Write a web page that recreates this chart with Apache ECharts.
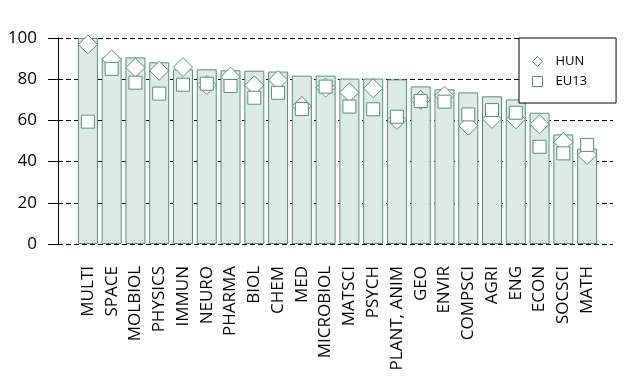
<!DOCTYPE html>
<html>
<head>
<meta charset="utf-8">
<script src="https://cdn.jsdelivr.net/npm/echarts@6/dist/echarts.min.js"></script>
<style>
html,body{margin:0;padding:0;background:#fff;}
#c{width:637px;height:381px;}
</style>
</head>
<body>
<div id="c"></div>
<script>
var categories = ["MULTI","SPACE","MOLBIOL","PHYSICS","IMMUN","NEURO","PHARMA","BIOL","CHEM","MED","MICROBIOL","MATSCI","PSYCH","PLANT, ANIM","GEO","ENVIR","COMPSCI","AGRI","ENG","ECON","SOCSCI","MATH"];
var barValues = [100, 90.4, 90.6, 88.2, 84.8, 84.8, 84.3, 84.1, 83.7, 81.7, 81.7, 80.3, 80.3, 79.9, 76.5, 75.1, 73.6, 71.7, 70.2, 63.7, 53.2, 46.3];
var hunValues = [96.9, 89.6, 85.6, 84.1, 85.9, 77.2, 81.2, 77.0, 79.6, 67.0, 75.9, 73.6, 75.6, 60.2, 70.0, 72.0, 57.4, 60.7, 60.5, 58.1, 49.4, 43.2];
var eu13Values = [59.4, 85.0, 78.3, 73.0, 77.3, 77.8, 76.7, 71.0, 73.4, 65.5, 76.4, 66.7, 65.4, 61.8, 69.4, 69.1, 62.9, 65.0, 63.7, 47.2, 44.0, 48.1];
var yTicks = [0, 20, 40, 60, 80, 100];

var stroke = '#5b8c7b';
var fill = '#dcebe6';
var font = 'Open Sans';

var chart = echarts.init(document.getElementById('c'), null, {renderer: 'canvas'});
chart.setOption({
  animation: false,
  backgroundColor: '#fff',
  grid: [
    {left: 58, right: 24, top: 38, bottom: 137},
    {left: 76, right: 38, top: 38, bottom: 137}
  ],
  legend: {
    data: ['HUN', 'EU13'],
    orient: 'vertical',
    left: 519, top: 38,
    backgroundColor: '#fff',
    borderColor: '#000', borderWidth: 1,
    padding: [17, 29, 15, 13],
    itemWidth: 10, itemHeight: 10, itemGap: 7,
    itemStyle: {color: '#fff', borderColor: stroke, borderWidth: 1},
    textStyle: {fontFamily: font, fontSize: 13, color: '#000', padding: [0, 0, 0, 8]}
  },
  xAxis: [
    {gridIndex: 0, type: 'category', data: categories, show: false},
    {gridIndex: 1, type: 'category', data: categories,
     axisLine: {show: false}, axisTick: {show: false},
     axisLabel: {rotate: 90, interval: 0, margin: 22, color: '#000', fontFamily: font, fontSize: 17}}
  ],
  yAxis: [
    {gridIndex: 0, type: 'value', min: yTicks[0], max: yTicks[yTicks.length-1], interval: 20,
     axisLine: {show: true, lineStyle: {color: '#000', width: 1}},
     axisTick: {show: true, length: 10, lineStyle: {color: '#000'}},
     axisLabel: {margin: 21, color: '#000', fontFamily: font, fontSize: 17},
     splitLine: {show: true, lineStyle: {color: '#000', type: [5, 3], width: 1}}},
    {gridIndex: 1, type: 'value', min: 0, max: 100, interval: 20, show: false, splitLine: {show: false}}
  ],
  series: [
    {name: 'WORLD', type: 'bar', xAxisIndex: 1, yAxisIndex: 1, data: barValues, barWidth: 20,
     itemStyle: {color: fill, borderColor: stroke, borderWidth: 1}, z: 2},
    {name: 'HUN', type: 'scatter', xAxisIndex: 1, yAxisIndex: 1, data: hunValues,
     symbol: 'diamond', symbolSize: 19,
     itemStyle: {color: '#fff', borderColor: stroke, borderWidth: 1, opacity: 1}, z: 3},
    {name: 'EU13', type: 'scatter', xAxisIndex: 1, yAxisIndex: 1, data: eu13Values,
     symbol: 'rect', symbolSize: 13,
     itemStyle: {color: '#fff', borderColor: stroke, borderWidth: 1, opacity: 1}, z: 4}
  ]
});
</script>
</body>
</html>
